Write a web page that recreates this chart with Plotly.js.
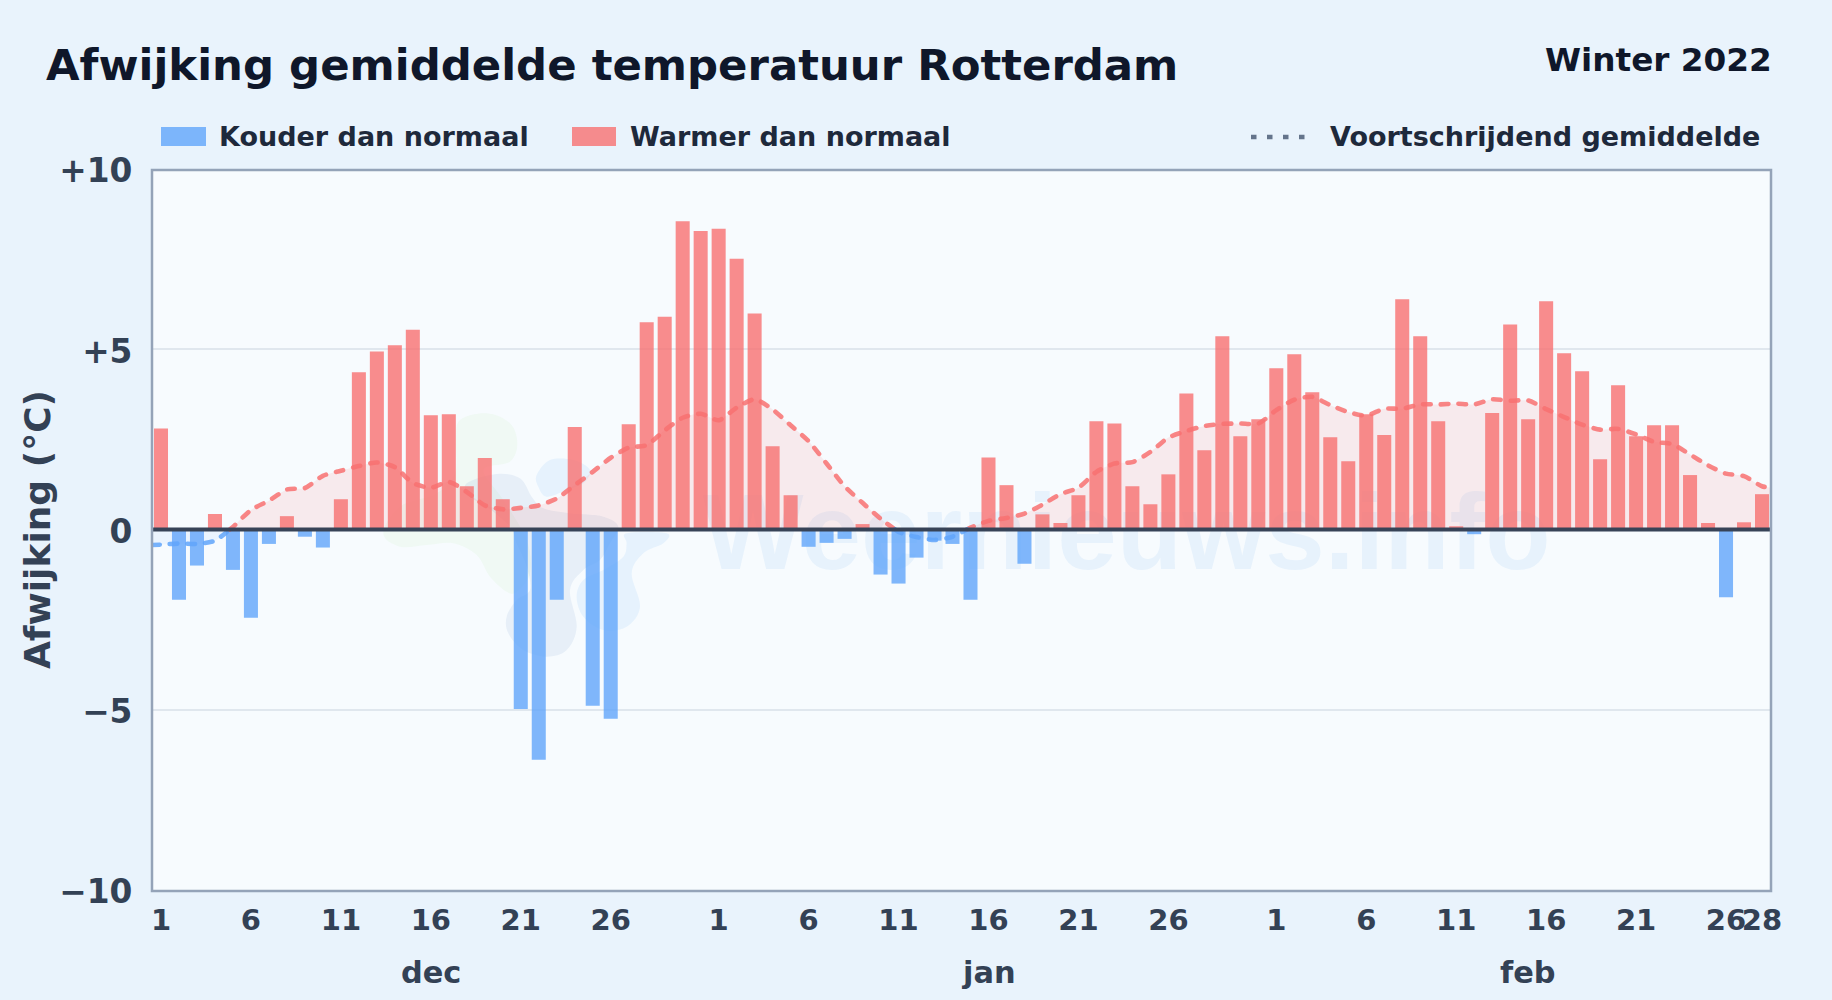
<!DOCTYPE html>
<html>
<head>
<meta charset="utf-8">
<script src="https://cdn.plot.ly/plotly-3.0.1.min.js"></script>
<style>
html,body{margin:0;padding:0;background:#e9f3fc;}
#chart{width:1832px;height:1000px;}
.scatterlayer .js-line{stroke-linecap:round;}
</style>
</head>
<body>
<div id="chart"></div>
<script>
const chartTitle = "Afwijking gemiddelde temperatuur Rotterdam";
const seasonLabel = "Winter 2022";
const yAxisLabel = "Afwijking (°C)";
const coldName = "Kouder dan normaal";
const warmName = "Warmer dan normaal";
const avgName = "Voortschrijdend gemiddelde";
const watermark = "Weernieuws.info";

const dayNumbers = [
 1,2,3,4,5,6,7,8,9,10,11,12,13,14,15,16,17,18,19,20,21,22,23,24,25,26,27,28,29,30,31,
 32,33,34,35,36,37,38,39,40,41,42,43,44,45,46,47,48,49,50,51,52,53,54,55,56,57,58,59,60,61,62,
 63,64,65,66,67,68,69,70,71,72,73,74,75,76,77,78,79,80,81,82,83,84,85,86,87,88,89,90];

const decAnomaly = [2.8,-1.95,-1.0,0.43,-1.12,-2.45,-0.4,0.37,-0.2,-0.5,0.84,4.36,4.94,5.11,5.54,3.17,3.2,1.2,1.98,0.84,-4.98,-6.39,-1.95,2.84,-4.89,-5.25,2.92,5.75,5.9,8.55,8.28];
const janAnomaly = [8.34,7.51,5.99,2.31,0.95,-0.48,-0.37,-0.26,0.15,-1.25,-1.5,-0.78,-0.31,-0.4,-1.95,2.0,1.23,-0.95,0.42,0.18,0.95,3.0,2.94,1.2,0.7,1.53,3.77,2.2,5.36,2.59,3.06];
const febAnomaly = [4.47,4.86,3.81,2.56,1.89,3.2,2.62,6.39,5.36,3.0,0.09,-0.13,3.23,5.69,3.06,6.33,4.89,4.39,1.95,4.0,2.59,2.89,2.89,1.51,0.18,-1.88,0.2,0.98];

const avgDays = [0.5].concat(dayNumbers, [90.5]);
const avgValues = [-0.43,
 -0.42,-0.39,-0.4,-0.31,0.07,0.54,0.8,1.11,1.15,1.49,1.63,1.76,1.86,1.73,1.29,1.16,1.32,1.04,0.67,0.56,0.6,0.67,0.86,1.23,1.6,1.99,2.27,2.34,2.75,3.1,3.21,
 3.03,3.38,3.61,3.33,2.89,2.45,1.83,1.2,0.74,0.3,-0.07,-0.21,-0.29,-0.2,0.05,0.24,0.32,0.44,0.69,0.98,1.16,1.6,1.83,1.87,2.15,2.55,2.73,2.87,2.93,2.94,2.94,
 3.31,3.6,3.68,3.45,3.26,3.16,3.35,3.35,3.47,3.47,3.49,3.47,3.61,3.57,3.58,3.34,3.12,2.91,2.77,2.79,2.64,2.43,2.37,2.08,1.78,1.55,1.48,1.2,
 1.16];

const tickDays = [1,6,11,16,21,26,32,37,42,47,52,57,63,68,73,78,83,88,90];
const tickTexts = ["1","6","11","16","21","26","1","6","11","16","21","26","1","6","11","16","21","26","28"];
const monthNames = ["dec","jan","feb"];
const monthCentres = [16,47,77];
const yTicks = [-10,-5,0,5,10];
const yTickTexts = ["−10","−5","0","+5","+10"];

// watermark logo blobs, traced on a crop of the picture
const blobGreen = [[258,120],[270,60],[350,40],[420,70],[442,130],[420,185],[340,210],[400,300],[470,420],[480,520],[440,575],[410,575],[360,530],[320,465],[250,430],[170,435],[90,440],[40,400],[90,320],[200,280],[255,220]];
const blobBlueDark = [[290,250],[380,222],[450,235],[485,290],[520,325],[600,340],[700,350],[745,380],[720,430],[690,480],[640,510],[600,570],[620,680],[590,750],[530,770],[460,750],[415,700],[410,650],[440,600],[480,570],[470,500],[440,430],[420,380],[350,320],[300,290]];
const blobBlueLight1 = [[500,225],[540,180],[610,180],[660,210],[640,250],[590,270],[530,290],[505,260]];
const blobBlueLight2 = [[770,400],[890,400],[880,430],[820,460],[785,520],[810,620],[770,680],[700,690],[640,650],[620,590],[640,540],[700,510],[760,470],[770,430]];

const DAYS = dayNumbers;
const anomalies = decAnomaly.concat(janAnomaly, febAnomaly);
const FONT = "'DejaVu Sans', sans-serif";
const PL = 152, PR = 1771, PT = 169, PB = 890;
function paperX(px){return (px-PL)/(PR-PL);}
function paperY(py){return 1-(py-PT)/(PB-PT);}

function blobPath(pts){
  const P = pts.map(p => [paperX(370+p[0]/3), paperY(400+p[1]/3)]);
  const n = P.length;
  let d = "M" + P[0][0] + "," + P[0][1];
  for(let i=0;i<n;i++){
    const p0=P[(i-1+n)%n],p1=P[i],p2=P[(i+1)%n],p3=P[(i+2)%n];
    d += " C" + (p1[0]+(p2[0]-p0[0])/6) + "," + (p1[1]+(p2[1]-p0[1])/6) + " " +
         (p2[0]-(p3[0]-p1[0])/6) + "," + (p2[1]-(p3[1]-p1[1])/6) + " " + p2[0] + "," + p2[1];
  }
  return d + " Z";
}
function blob(pts,color){
  return {type:"path",path:blobPath(pts),xref:"paper",yref:"paper",fillcolor:color,line:{width:0},layer:"below"};
}

// split the running mean at zero so each side keeps its own colour
function sideOf(sign){
  const xs=[],ys=[];
  for(let i=0;i<avgDays.length;i++){
    const v=avgValues[i];
    if(v*sign>=0){ xs.push(avgDays[i]); ys.push(v); }
    if(i<avgDays.length-1){
      const w=avgValues[i+1];
      if(v*w<0){
        const xc=avgDays[i]+(avgDays[i+1]-avgDays[i])*(-v)/(w-v);
        xs.push(xc); ys.push(0);
        if(w*sign<0){ xs.push(xc+0.001); ys.push(null); }
      }
    }
  }
  return {xs,ys};
}
const warmSide=sideOf(1), coldSide=sideOf(-1);
const avgLine=c=>({color:c,width:4.6,shape:"spline",smoothing:0.7,dash:"7.5px,10.2px"});

const traces=[
 {type:"bar",name:coldName,x:DAYS.filter((d,i)=>anomalies[i]<0),y:anomalies.filter(v=>v<0),width:0.78,
  marker:{color:"rgba(96,165,250,0.8)",line:{width:0}},hoverinfo:"x+y"},
 {type:"bar",name:warmName,x:DAYS.filter((d,i)=>anomalies[i]>=0),y:anomalies.filter(v=>v>=0),width:0.78,
  marker:{color:"rgba(248,113,113,0.8)",line:{width:0}},hoverinfo:"x+y"},
 {type:"scatter",mode:"lines",name:avgName,x:warmSide.xs,y:warmSide.ys,fill:"tozeroy",fillcolor:"rgba(248,113,113,0.12)",
  line:avgLine("rgba(248,113,113,0.85)"),connectgaps:false},
 {type:"scatter",mode:"lines",name:avgName+" (koud)",x:coldSide.xs,y:coldSide.ys,fill:"tozeroy",fillcolor:"rgba(96,165,250,0.08)",
  line:avgLine("rgba(96,165,250,0.85)"),connectgaps:false}
];

const legendColor="#1e293b", axisColor="#334155";

const annotations=[
 {text:"<b>"+seasonLabel+"</b>",xref:"paper",yref:"paper",x:paperX(1774),y:paperY(60),xanchor:"right",yanchor:"middle",showarrow:false,font:{family:FONT,size:32.7,color:"#0f172a"}},
 {text:"<b>"+coldName+"</b>",xref:"paper",yref:"paper",x:paperX(217),y:paperY(136.5),xanchor:"left",yanchor:"middle",showarrow:false,font:{family:FONT,size:27,color:legendColor}},
 {text:"<b>"+warmName+"</b>",xref:"paper",yref:"paper",x:paperX(628),y:paperY(136.5),xanchor:"left",yanchor:"middle",showarrow:false,font:{family:FONT,size:27,color:legendColor}},
 {text:"<b>"+avgName+"</b>",xref:"paper",yref:"paper",x:paperX(1328),y:paperY(136.5),xanchor:"left",yanchor:"middle",showarrow:false,font:{family:FONT,size:27,color:legendColor}},
 {text:"<b>"+yAxisLabel+"</b>",xref:"paper",yref:"paper",x:paperX(37),y:paperY(530),xanchor:"center",yanchor:"middle",textangle:-90,showarrow:false,font:{family:FONT,size:36,color:axisColor}}
];
monthNames.forEach((m,i)=>annotations.push({text:"<b>"+m+"</b>",xref:"x",yref:"paper",x:monthCentres[i],y:paperY(972),xanchor:"center",yanchor:"middle",showarrow:false,font:{family:FONT,size:30.4,color:axisColor}}));

const shapes=[
 blob(blobGreen,"rgba(190,235,175,0.12)"),
 blob(blobBlueLight1,"rgba(130,190,245,0.14)"),
 blob(blobBlueLight2,"rgba(130,190,245,0.14)"),
 blob(blobBlueDark,"rgba(120,160,210,0.13)"),
 {type:"rect",xref:"paper",yref:"paper",x0:paperX(707),x1:paperX(1546),y0:paperY(582),y1:paperY(462),line:{width:0},fillcolor:"rgba(0,0,0,0)",layer:"below",
  label:{text:"<b>"+watermark+"</b>",textposition:"middle center",font:{family:"'Liberation Sans', sans-serif",size:107,color:"rgba(80,150,230,0.09)"}}},
 {type:"line",xref:"paper",yref:"y",x0:0,x1:1,y0:0,y1:0,line:{color:"#374357",width:4},layer:"above"},
 {type:"rect",xref:"paper",yref:"paper",x0:0,x1:1,y0:paperY(891),y1:paperY(170),line:{color:"#94a3b8",width:2.5},fillcolor:"rgba(0,0,0,0)",layer:"above"},
 {type:"rect",xref:"paper",yref:"paper",x0:paperX(161),x1:paperX(206),y0:paperY(127),y1:paperY(146),fillcolor:"rgba(96,165,250,0.8)",line:{width:0}},
 {type:"rect",xref:"paper",yref:"paper",x0:paperX(572),x1:paperX(616),y0:paperY(127),y1:paperY(146),fillcolor:"rgba(248,113,113,0.8)",line:{width:0}},
 {type:"line",xref:"paper",yref:"paper",x0:paperX(1251),x1:paperX(1308),y0:paperY(137),y1:paperY(137),line:{color:"#64748b",width:4.5,dash:"5.5px,10.5px"}}
];

const layout={
 width:1832,height:1000,
 margin:{l:PL,r:1832-PR,t:PT,b:1000-PB,pad:0},
 paper_bgcolor:"#e9f3fc",plot_bgcolor:"#f7fbfe",
 font:{family:FONT,color:axisColor},
 showlegend:false,barmode:"overlay",
 title:{text:"<b>"+chartTitle+"</b>",x:46/1832,xanchor:"left",xref:"container",y:1-65/1000,yanchor:"middle",yref:"container",font:{family:FONT,size:43.4,color:"#0f172a"}},
 xaxis:{range:[0.5,90.5],tickmode:"array",tickvals:tickDays,ticktext:tickTexts,tickangle:0,ticks:"",showgrid:false,zeroline:false,
   showline:false,ticklabelstandoff:10,tickfont:{family:FONT,size:29,color:axisColor,weight:700}},
 yaxis:{range:[-10,10],tickmode:"array",tickvals:yTicks,ticktext:yTickTexts,ticks:"outside",ticklen:12,tickcolor:"rgba(0,0,0,0)",showgrid:true,gridcolor:"#e0e7ee",gridwidth:2,zeroline:false,
   showline:false,ticklabelshift:2,tickfont:{family:FONT,size:32.8,color:axisColor,weight:700}},
 annotations:annotations,shapes:shapes
};
Plotly.newPlot("chart",traces,layout,{displayModeBar:false,responsive:false});
</script>
</body>
</html>
